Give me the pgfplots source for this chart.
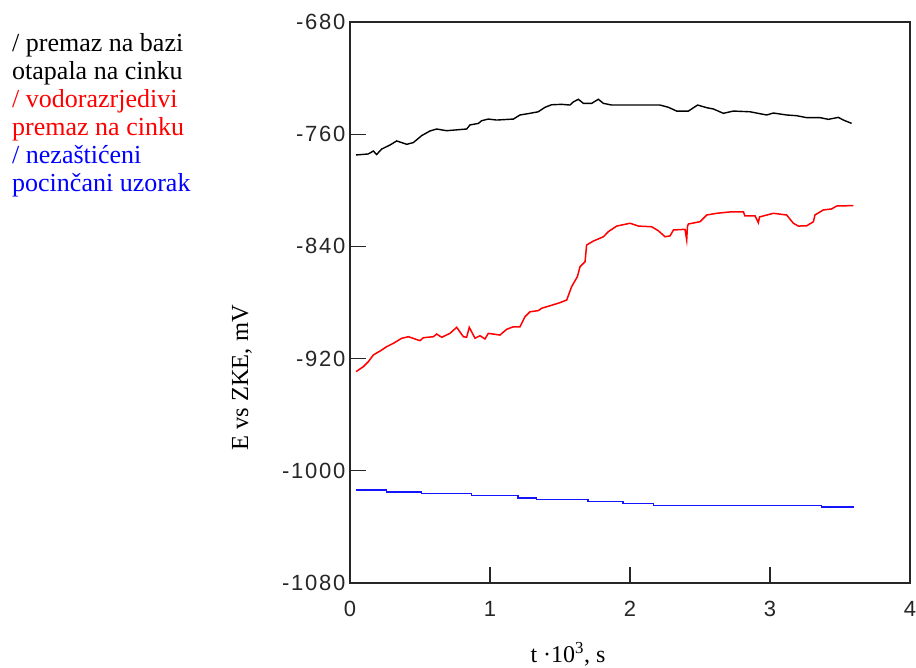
\documentclass[border=0pt]{standalone}
\usepackage{pgfplots}
\pgfplotsset{compat=1.18}
\usepackage{fontspec}
\setmainfont{Liberation Serif}
\newfontfamily\arial[LetterSpace=8]{Liberation Sans}
\begin{document}
\begin{tikzpicture}
\useasboundingbox (0,0) rectangle (916bp,-668bp);
\begin{axis}[
  at={(350bp,-583bp)}, anchor=south west,
  width=560bp, height=561bp, scale only axis,
  xmin=0, xmax=4, ymin=-1080, ymax=-680,
  xtick={0,1,2,3,4}, xticklabels={0,1,2,3,4},
  ytick={-1080,-1000,-920,-840,-760,-680},
  yticklabels={-1080,-1000,-920,-840,-760,-680},
  tick align=inside, xtick pos=bottom, ytick pos=left,
  major tick length=16bp,
  axis line style={line width=1.3bp, black!85},
  tick style={line width=1.3bp, black!85},
  ticklabel style={font=\arial\fontsize{22bp}{22bp}\selectfont, text=black!85},
  xticklabel style={yshift=-15bp},
  yticklabel style={xshift=-1bp},
  clip=false,
]
\addplot[black, line width=1.4bp] coordinates {
(0.043,-774.8) (0.13,-774.1) (0.167,-772) (0.19,-774.5) (0.226,-770.6)
(0.286,-767.7) (0.333,-764.8) (0.405,-767.2) (0.452,-766) (0.512,-761)
(0.571,-757.7) (0.619,-756.3) (0.69,-757.5) (0.833,-756.3) (0.857,-753.4)
(0.917,-752.3) (0.94,-750.4) (0.988,-749.2) (1.048,-749.9) (1.167,-749.2)
(1.214,-746.3) (1.286,-745.1) (1.345,-744) (1.393,-740.8) (1.44,-739)
(1.512,-738.7) (1.571,-739.2) (1.595,-737) (1.631,-735.1) (1.667,-738)
(1.726,-738) (1.774,-735.1) (1.81,-738) (1.869,-739.2) (2.07,-739.2)
(2.214,-739.2) (2.274,-740.8) (2.333,-743.5) (2.417,-743.5) (2.483,-739.2)
(2.548,-741.1) (2.595,-742) (2.667,-745.1) (2.738,-743.5) (2.857,-744)
(2.976,-746.3) (3.024,-744.9) (3.119,-746.3) (3.19,-746.8) (3.262,-748.2)
(3.357,-748.2) (3.417,-749.4) (3.488,-748) (3.524,-749.9) (3.583,-752.3)
};
\addplot[red, line width=1.5bp] coordinates {
(0.043,-929.3) (0.095,-925.8) (0.131,-922.2) (0.167,-917.4) (0.226,-913.9)
(0.262,-911.5) (0.31,-909.1) (0.369,-905.5) (0.417,-904.4) (0.5,-907.2)
(0.524,-905.1) (0.595,-904.4) (0.619,-902.5) (0.655,-904.8) (0.714,-902)
(0.762,-897.7) (0.81,-904.4) (0.833,-904.8) (0.852,-897.7) (0.893,-905.5)
(0.929,-903.7) (0.964,-906) (0.988,-902) (1.071,-903.2) (1.119,-899.1)
(1.167,-897.3) (1.214,-897.3) (1.25,-890.1) (1.286,-886.6) (1.345,-885.8)
(1.369,-884.1) (1.429,-882.3) (1.5,-880.1) (1.548,-878.2) (1.583,-868.7)
(1.624,-861.6) (1.643,-854.5) (1.679,-850.9) (1.69,-839) (1.738,-836.2)
(1.81,-833.1) (1.845,-829.5) (1.905,-825.5) (2.0,-823.5) (2.06,-825.5)
(2.155,-826) (2.202,-828.8) (2.25,-833.1) (2.286,-832.5) (2.31,-828.3)
(2.393,-827.8) (2.405,-835.4) (2.41,-826) (2.417,-824) (2.5,-822.4)
(2.548,-817.6) (2.619,-816.4) (2.726,-815.3) (2.81,-815.3) (2.821,-818.3)
(2.893,-818.3) (2.917,-823.1) (2.925,-819) (3.024,-816.4) (3.119,-817.6)
(3.167,-823.5) (3.202,-825.5) (3.262,-825.3) (3.31,-822.4) (3.321,-817.6)
(3.381,-814) (3.44,-813.3) (3.476,-811.2) (3.595,-810.9)
};
\addplot[color={rgb,255:red,20;green,20;blue,255}, line width=1.6bp, const plot] coordinates {
(0.043,-1013.7) (0.262,-1015.1) (0.512,-1016.3) (0.869,-1017.7)
(1.202,-1019.2) (1.333,-1020.6) (1.702,-1022) (1.952,-1023.2)
(2.167,-1024.6) (3.369,-1026) (3.595,-1026.8)
};
\end{axis}
\begin{scope}[every node/.style={anchor=base west, inner sep=0pt, font=\fontsize{26bp}{28bp}\selectfont}]
\node at (12bp,-51bp) {/ premaz na bazi};
\node at (12bp,-79bp) {otapala na cinku};
\node[text=red] at (12bp,-107bp) {/ vodorazrjedivi};
\node[text=red] at (12bp,-135bp) {premaz na cinku};
\node[text=blue] at (12bp,-163bp) {/ nezaštićeni};
\node[text=blue] at (12bp,-191bp) {pocinčani uzorak};
\end{scope}
\node[rotate=90, anchor=base, inner sep=0pt, font=\fontsize{24.5bp}{24bp}\selectfont] at (248bp,-378bp) {E vs ZKE, mV};
\node[anchor=base, inner sep=0pt, font=\fontsize{24bp}{24bp}\selectfont] at (568bp,-662bp) {t ·10\textsuperscript{3}, s};
\end{tikzpicture}
\end{document}
